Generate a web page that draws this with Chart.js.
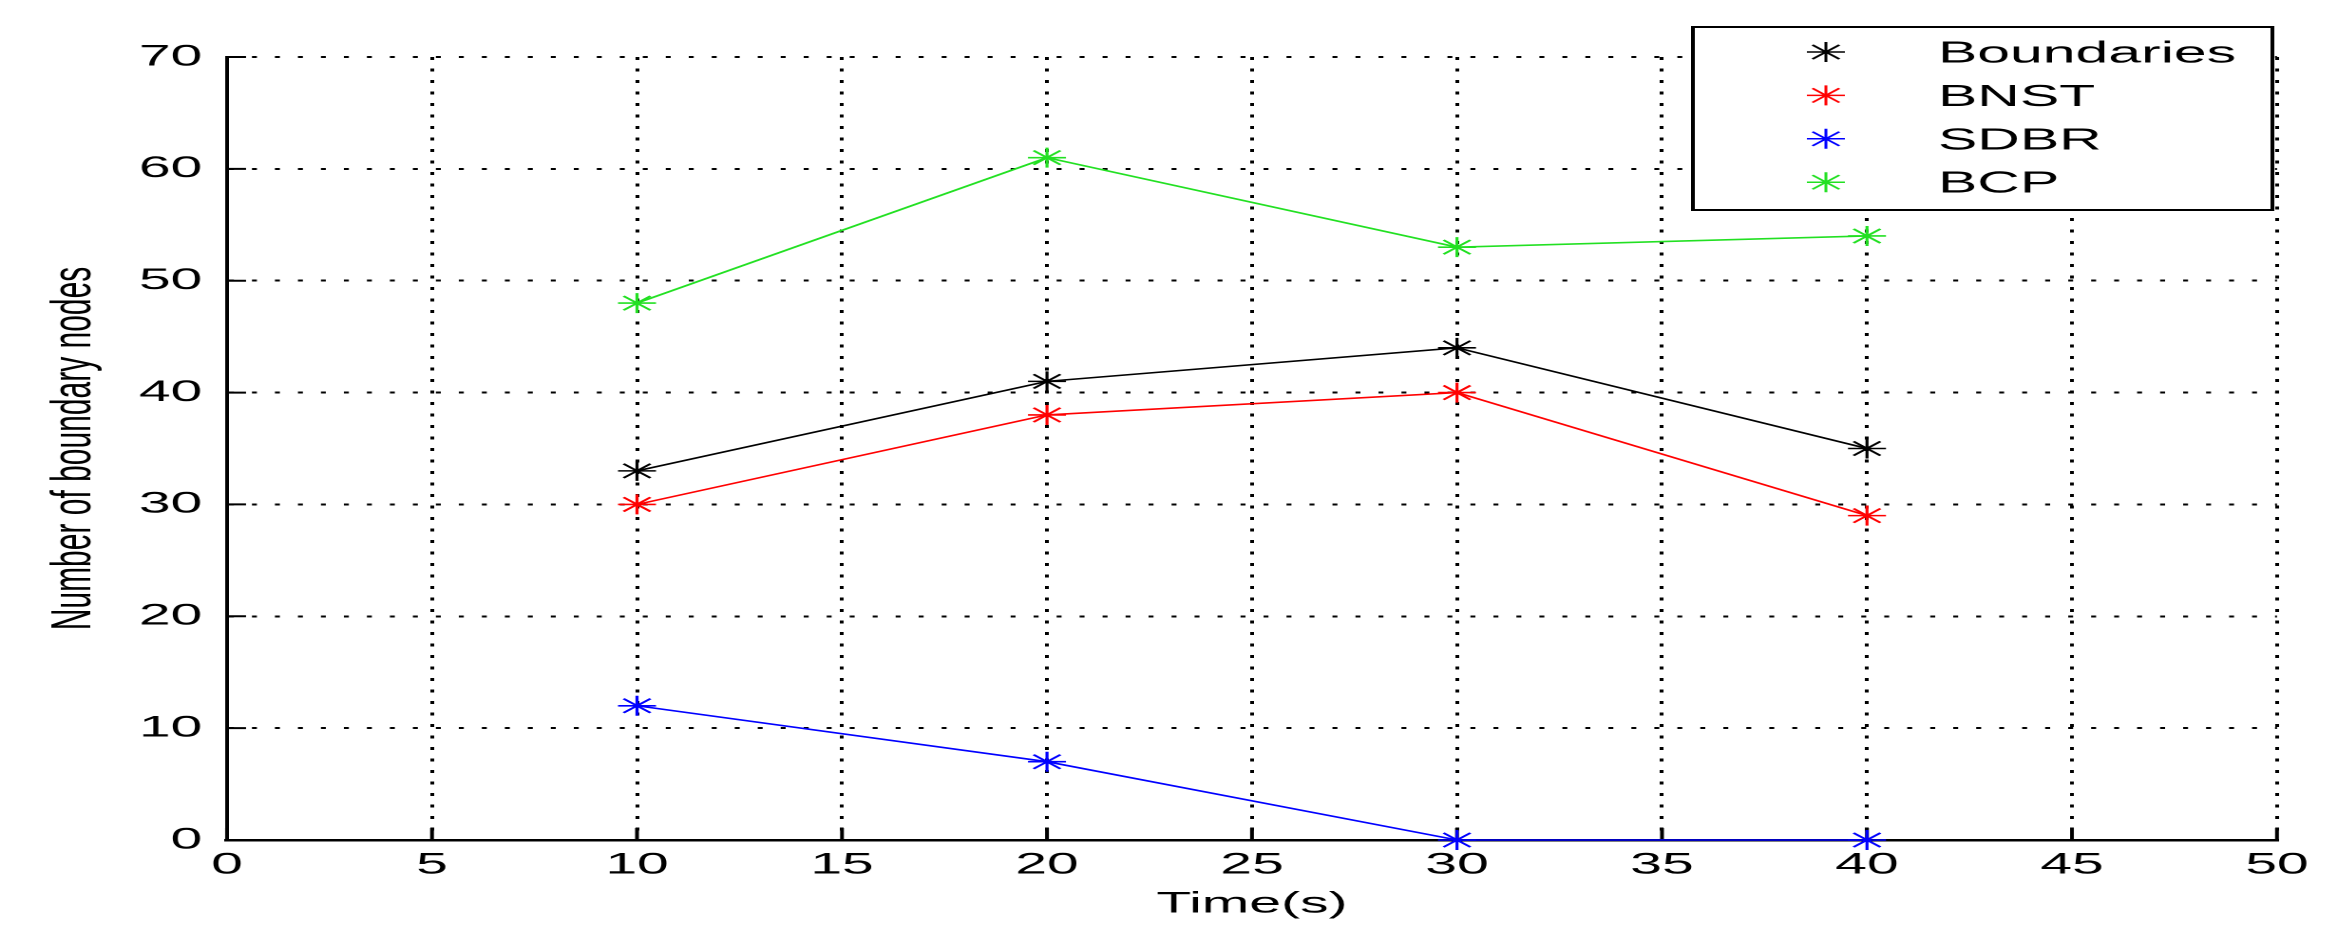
<!DOCTYPE html>
<html>
<head>
<meta charset="utf-8">
<title>Number of boundary nodes</title>
<script src="https://cdn.jsdelivr.net/npm/chart.js@4/dist/chart.umd.min.js"></script>
<style>
    html, body { margin: 0; padding: 0; background: #fff; overflow: hidden; }
    #wrap { position: absolute; left: 0; top: 0; height: 949px; transform-origin: 0 0; }
</style>
</head>
<body>
<div id="wrap"><canvas id="nodesChart"></canvas></div>
<script>
// Chart data
const timeValues = [10, 20, 30, 40];
const seriesNames = ['Boundaries', 'BNST', 'SDBR', 'BCP'];
const boundariesValues = [33, 41, 44, 35];
const bnstValues = [30, 38, 40, 29];
const sdbrValues = [12, 7, 0, 0];
const bcpValues = [48, 61, 53, 54];
const xTickValues = [0, 5, 10, 15, 20, 25, 30, 35, 40, 45, 50];
const yTickValues = [0, 10, 20, 30, 40, 50, 60, 70];

// The original figure is stretched sideways, so draw narrow and scale the page in x
const STRETCH = 1.9;
const PAGE_W = 2349;
const FONT = "'Liberation Sans', Arial, sans-serif";

const wrap = document.getElementById('wrap');
wrap.style.width = (PAGE_W / STRETCH) + 'px';
wrap.style.transform = 'scaleX(' + STRETCH + ')';

function toPoints(values) {
    return values.map((v, i) => ({ x: timeValues[i], y: v }));
}

const seriesValues = [boundariesValues, bnstValues, sdbrValues, bcpValues];
const seriesColors = ['#000000', '#ff0000', '#0000ff', '#22e022'];

// Inward tick marks like MATLAB
const tickMarks = {
    id: 'tickMarks',
    beforeDatasetsDraw(chart) {
        const { ctx, chartArea: { left, bottom }, scales: { x, y } } = chart;
        ctx.save();
        ctx.strokeStyle = '#000';
        ctx.lineWidth = 2;
        ctx.beginPath();
        yTickValues.forEach(v => {
            const py = y.getPixelForValue(v);
            ctx.moveTo(left, py);
            ctx.lineTo(left + 10, py);
        });
        xTickValues.forEach(v => {
            const px = x.getPixelForValue(v);
            ctx.moveTo(px, bottom);
            ctx.lineTo(px, bottom - 12);
        });
        ctx.stroke();
        ctx.restore();
    }
};

// Boxed legend in the top right corner
const legendBox = {
    id: 'legendBox',
    afterDatasetsDraw(chart) {
        const ctx = chart.ctx;
        const box = { x: 891, y: 27, w: 305, h: 183 };
        ctx.save();
        ctx.fillStyle = '#fff';
        ctx.fillRect(box.x, box.y, box.w, box.h);
        ctx.lineWidth = 2;
        ctx.strokeStyle = '#000';
        ctx.strokeRect(box.x, box.y, box.w, box.h);
        chart.data.datasets.forEach((ds, i) => {
            const rowY = 52 + i * 43.4;
            ctx.strokeStyle = ds.borderColor;
            ctx.fillStyle = ds.borderColor;
            ctx.lineWidth = 1.5;
            Chart.helpers.drawPoint(ctx, { pointStyle: 'star', radius: 10, borderWidth: 1.5, rotation: 0 }, 961, rowY);
            ctx.fillStyle = '#000';
            ctx.font = '31px ' + FONT;
            ctx.textBaseline = 'middle';
            ctx.textAlign = 'left';
            ctx.fillText(ds.label, 1020, rowY + 2);
        });
        ctx.restore();
    }
};

Chart.defaults.font.family = FONT;
Chart.defaults.font.size = 30;
Chart.defaults.color = '#000';

const ctx = document.getElementById('nodesChart').getContext('2d');
const nodesChart = new Chart(ctx, {
    type: 'line',
    data: {
        datasets: seriesNames.map((name, i) => ({
            label: name,
            data: toPoints(seriesValues[i]),
            borderColor: seriesColors[i],
            backgroundColor: seriesColors[i],
            borderWidth: 1.6,
            tension: 0,
            fill: false,
            pointStyle: 'star',
            pointRadius: 10,
            pointBorderWidth: 1.6,
            pointBorderColor: seriesColors[i],
            clip: false
        }))
    },
    options: {
        responsive: true,
        maintainAspectRatio: false,
        animation: false,
        devicePixelRatio: 2,
        layout: {
            padding: { left: 0, top: 57, right: PAGE_W / STRETCH - 2277 / STRETCH, bottom: 0 }
        },
        plugins: {
            legend: { display: false },
            tooltip: { enabled: false }
        },
        scales: {
            x: {
                type: 'linear',
                min: 0,
                max: 50,
                afterBuildTicks: s => { s.ticks = xTickValues.map(v => ({ value: v })); },
                afterFit: s => { s.height = 109; },
                ticks: { padding: 7, autoSkip: false, maxRotation: 0 },
                grid: { color: '#000', lineWidth: 2, drawTicks: false },
                border: { display: true, color: '#000', width: 2.5, dash: [3, 8.5] },
                title: { display: true, text: 'Time(s)', padding: { top: 0, bottom: 27 } }
            },
            y: {
                min: 0,
                max: 70,
                afterBuildTicks: s => { s.ticks = yTickValues.map(v => ({ value: v })); },
                afterFit: s => { s.width = 227 / STRETCH; },
                ticks: { padding: 13, autoSkip: false },
                grid: { color: '#000', lineWidth: 2, drawTicks: false },
                border: { display: true, color: '#000', width: 2, dash: [2.6, 9.5] },
                title: { display: true, text: 'Number of boundary nodes', padding: { top: 21, bottom: 0 } }
            }
        }
    },
    plugins: [tickMarks, legendBox]
});
</script>
</body>
</html>
